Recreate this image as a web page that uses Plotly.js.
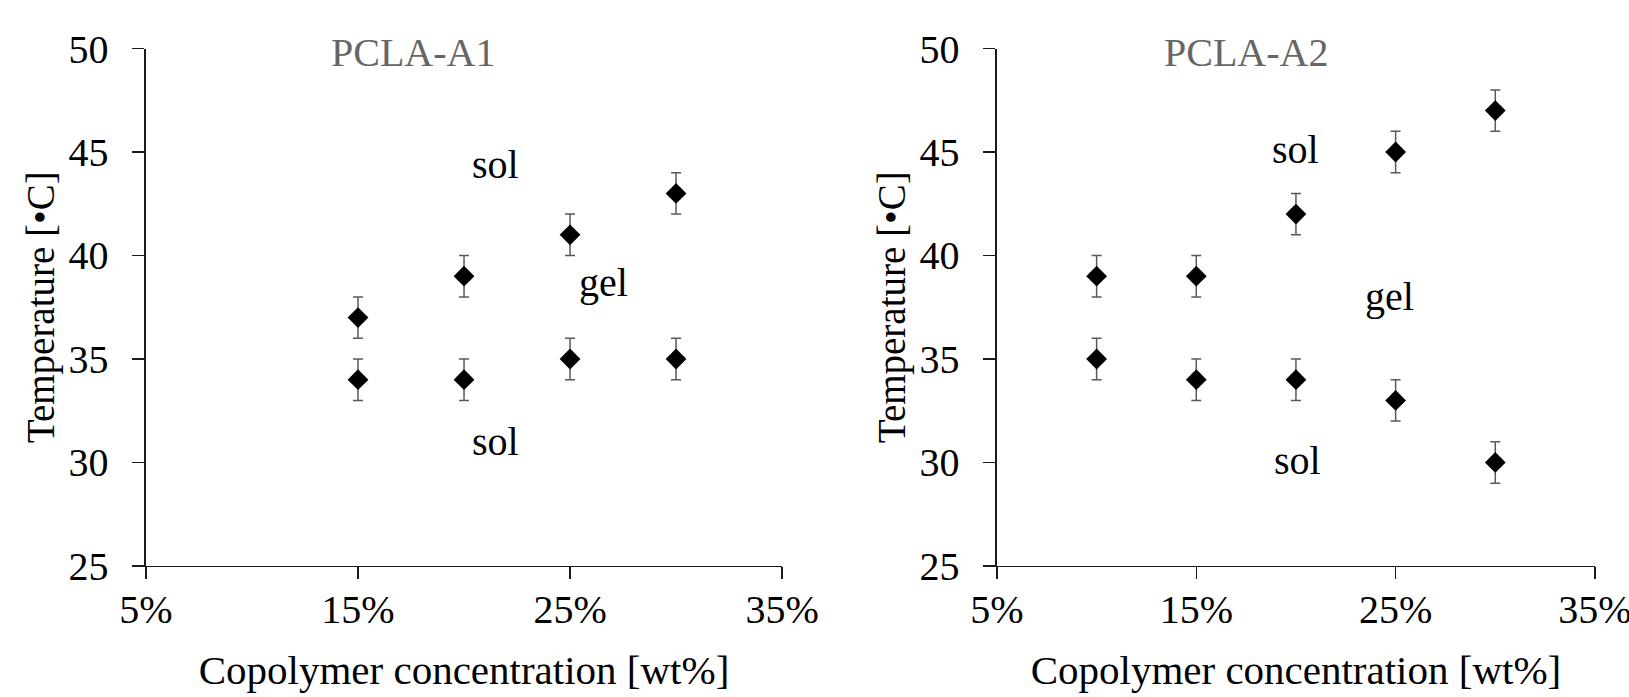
<!DOCTYPE html>
<html>
<head>
<meta charset="utf-8">
<script src="https://cdn.plot.ly/plotly-3.0.1.min.js"></script>
<style>
  html, body { margin: 0; padding: 0; background: #fff; }
  #chart { width: 1629px; height: 697px; }
</style>
</head>
<body>
<div id="chart"></div>
<script>
// ---- Data ----
const xTickVals = [5, 15, 25, 35];
const xTickText = ['5%', '15%', '25%', '35%'];

// PCLA-A1
const a1Conc  = [15, 20, 25, 30];
const a1Upper = [37, 39, 41, 43];
const a1Lower = [34, 34, 35, 35];
const a1ErrUpper = [1, 1, 1, 1];
const a1ErrLower = [1, 1, 1, 1];

// PCLA-A2
const a2Conc  = [10, 15, 20, 25, 30];
const a2Upper = [39, 39, 42, 45, 47];
const a2Lower = [35, 34, 34, 33, 30];
const a2ErrUpper = [1, 1, 1, 1, 1];
const a2ErrLower = [1, 1, 1, 1, 1];

const panelTitles = ['PCLA-A1', 'PCLA-A2'];
const xTitle = 'Copolymer concentration [wt%]';
const yTitle = 'Temperature [\u2022C]';

// ---- Styling ----
const FONT = '"Liberation Serif", "Times New Roman", Times, serif';
const markerStyle = { symbol: 'diamond', size: 16, color: '#000000' };
function errStyle(arr) {
  return { type: 'data', array: arr, visible: true, color: '#595959', thickness: 1.5, width: 5 };
}
function trace(x, y, err, xa, ya) {
  return { x: x, y: y, type: 'scatter', mode: 'markers', marker: markerStyle,
           error_y: errStyle(err), xaxis: xa, yaxis: ya, showlegend: false, hoverinfo: 'x+y' };
}

const data = [
  trace(a1Conc, a1Upper, a1ErrUpper, 'x', 'y'),
  trace(a1Conc, a1Lower, a1ErrLower, 'x', 'y'),
  trace(a2Conc, a2Upper, a2ErrUpper, 'x2', 'y2'),
  trace(a2Conc, a2Lower, a2ErrLower, 'x2', 'y2')
];

function xAxis(domain, anchor) {
  return {
    domain: domain, anchor: anchor, range: [5, 35],
    tickmode: 'array', tickvals: xTickVals, ticktext: xTickText,
    showgrid: false, zeroline: false, showline: true, linecolor: '#1a1a1a', linewidth: 1.5,
    ticks: 'outside', ticklen: 12, tickwidth: 1.5, tickcolor: '#1a1a1a',
    ticklabelstandoff: -4, ticklabeloverflow: 'allow',
    tickfont: { family: FONT, size: 40, color: '#000' },
    title: { text: xTitle, font: { family: FONT, size: 41, color: '#000' }, standoff: 24 },
    automargin: false, fixedrange: true
  };
}
function yAxis(domain, anchor) {
  return {
    domain: domain, anchor: anchor, range: [25, 50], dtick: 5, tick0: 25,
    showgrid: false, zeroline: false, showline: true, linecolor: '#1a1a1a', linewidth: 1.5,
    ticks: 'outside', ticklen: 12, tickwidth: 1.5, tickcolor: '#1a1a1a',
    ticklabelstandoff: 16, ticklabeloverflow: 'allow',
    tickfont: { family: FONT, size: 40, color: '#000' },
    title: { text: yTitle, font: { family: FONT, size: 39, color: '#000' }, standoff: 2 },
    automargin: false, fixedrange: true
  };
}

const yDom = [0.188, 0.9304];

function label(text, x, y, xref, yref, color) {
  return { text: text, x: x, y: y, xref: xref, yref: yref, showarrow: false,
           font: { family: FONT, size: 40, color: color || '#000' },
           xanchor: 'center', yanchor: 'middle' };
}

const layout = {
  width: 1629, height: 697,
  margin: { l: 0, r: 0, t: 0, b: 0 },
  paper_bgcolor: '#ffffff', plot_bgcolor: '#ffffff',
  showlegend: false,
  font: { family: FONT, color: '#000' },
  xaxis: xAxis([0.0896, 0.4801], 'y'),
  yaxis: yAxis(yDom, 'x'),
  xaxis2: xAxis([0.6120, 0.9791], 'y2'),
  yaxis2: yAxis(yDom, 'x2'),
  annotations: [
    label(panelTitles[0], 17.6, 49.8, 'x', 'y', '#666666'),
    label('sol', 21.5, 44.4, 'x', 'y'),
    label('gel', 26.6, 38.7, 'x', 'y'),
    label('sol', 21.5, 31.0, 'x', 'y'),
    label(panelTitles[1], 17.5, 49.8, 'x2', 'y2', '#666666'),
    label('sol', 20.0, 45.1, 'x2', 'y2'),
    label('gel', 24.7, 38.0, 'x2', 'y2'),
    label('sol', 20.1, 30.1, 'x2', 'y2')
  ]
};

Plotly.newPlot('chart', data, layout, { displayModeBar: false, staticPlot: true });
</script>
</body>
</html>
